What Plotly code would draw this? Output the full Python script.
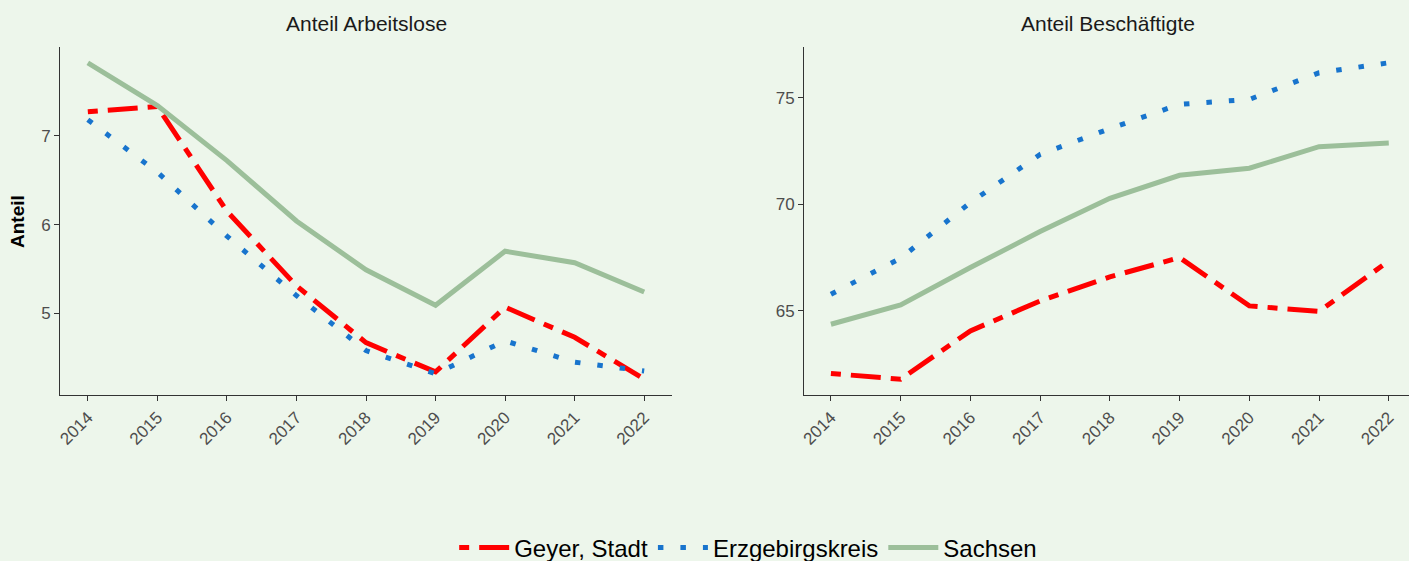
import plotly.graph_objects as go

years = [2014, 2015, 2016, 2017, 2018, 2019, 2020, 2021, 2022]
series_names = ["Geyer, Stadt", "Erzgebirgskreis", "Sachsen"]

# Anteil Arbeitslose
alo_geyer = [7.27, 7.33, 6.15, 5.31, 4.67, 4.34, 5.07, 4.73, 4.26]
alo_erz = [7.18, 6.59, 5.87, 5.20, 4.58, 4.32, 4.69, 4.45, 4.35]
alo_sachsen = [7.82, 7.34, 6.72, 6.04, 5.49, 5.09, 5.70, 5.57, 5.24]

# Anteil Beschäftigte
bes_geyer = [62.06, 61.79, 64.06, 65.46, 66.59, 67.50, 65.23, 64.97, 67.34]
bes_erz = [65.78, 67.47, 70.08, 72.34, 73.55, 74.69, 74.92, 76.17, 76.64]
bes_sachsen = [64.37, 65.28, 67.03, 68.72, 70.28, 71.36, 71.69, 72.70, 72.87]

titles = ["Anteil Arbeitslose", "Anteil Beschäftigte"]
y_title = "Anteil"

colors = {"Geyer, Stadt": "#FF0000", "Erzgebirgskreis": "#1874CD", "Sachsen": "#9CBF9A"}
dashes = {"Geyer, Stadt": "10px,10px,30px,10px", "Erzgebirgskreis": "5.5px,17px", "Sachsen": "solid"}

bg = "#EDF6EB"
W, H = 1409, 561
FONT = "Liberation Sans, Arial, sans-serif"

fig = go.Figure()

panels = [
    ("x", "y", [alo_geyer, alo_erz, alo_sachsen], True),
    ("x2", "y2", [bes_geyer, bes_erz, bes_sachsen], False),
]
for xa, ya, data, show in panels:
    for name, vals in zip(series_names, data):
        fig.add_trace(go.Scatter(
            x=years, y=vals, mode="lines", name=name,
            xaxis=xa, yaxis=ya, showlegend=show,
            line=dict(color=colors[name], width=5, dash=dashes[name]),
            hoverinfo="skip",
        ))

def px_x(p):
    return p / W

def px_y(p):
    return 1 - p / H

tickfont = dict(family=FONT, size=17, color="#4D4D4D")
axis_common = dict(
    showgrid=False, zeroline=False, showline=True, linecolor="#333333", linewidth=1,
    ticks="outside", ticklen=5, tickcolor="#333333", tickwidth=1.3, tickfont=tickfont,
    automargin=False,
)

fig.update_layout(
    width=W, height=H, autosize=False,
    margin=dict(l=0, r=0, t=0, b=0, pad=0),
    paper_bgcolor=bg, plot_bgcolor=bg,
    font=dict(family=FONT, color="#000000"),
    xaxis=dict(domain=[px_x(60), px_x(672)], range=[2013.6, 2022.4],
               tickvals=years, ticktext=[str(y) for y in years], tickangle=-45,
               anchor="y", **axis_common),
    yaxis=dict(domain=[px_y(395), px_y(47)], range=[4.08, 8.0],
               tickvals=[5, 6, 7], anchor="x", **axis_common),
    xaxis2=dict(domain=[px_x(804), 1.0], range=[2013.614, 2022.29],
                tickvals=years, ticktext=[str(y) for y in years], tickangle=-45,
                anchor="y2", **axis_common),
    yaxis2=dict(domain=[px_y(395), px_y(47)], range=[61.05, 77.38],
                tickvals=[65, 70, 75], anchor="x2", **axis_common),
    # legend kept fully inside the page (so it does not push the plot margins);
    # it is nudged down to its reference position after rendering
    legend=dict(orientation="h", x=0.531, xanchor="center",
                y=px_y(536), yanchor="middle",
                font=dict(size=24, color="#000000"), bgcolor="rgba(0,0,0,0)",
                itemwidth=50, tracegroupgap=0),
    showlegend=True,
    annotations=[
        dict(text=titles[0], x=(px_x(60) + px_x(672)) / 2, y=px_y(24), xref="paper", yref="paper",
             showarrow=False, font=dict(size=21, color="#1A1A1A"), xanchor="center", yanchor="middle"),
        dict(text=titles[1], x=(px_x(804) + px_x(1412)) / 2, y=px_y(24), xref="paper", yref="paper",
             showarrow=False, font=dict(size=21, color="#1A1A1A"), xanchor="center", yanchor="middle"),
        dict(text="<b>" + y_title + "</b>", x=px_x(17), y=px_y(222), xref="paper", yref="paper",
             showarrow=False, textangle=-90, font=dict(size=19, color="#000000"),
             xanchor="center", yanchor="middle"),
    ],
)

post = """
document.body.style.margin='0';
document.body.style.overflow='hidden';
var lg = document.querySelector('g.legend');
if (lg) {
  var tr = lg.getAttribute('transform') || '';
  var m = /translate\\(\\s*([-\\d.eE]+)[\\s,]+([-\\d.eE]+)\\s*\\)/.exec(tr);
  if (m) {
    lg.setAttribute('transform', 'translate(' + m[1] + ',' + (parseFloat(m[2]) + 12) + ')');
  }
}
"""

fig.write_html("out.html", config={"displayModeBar": False}, post_script=post)
